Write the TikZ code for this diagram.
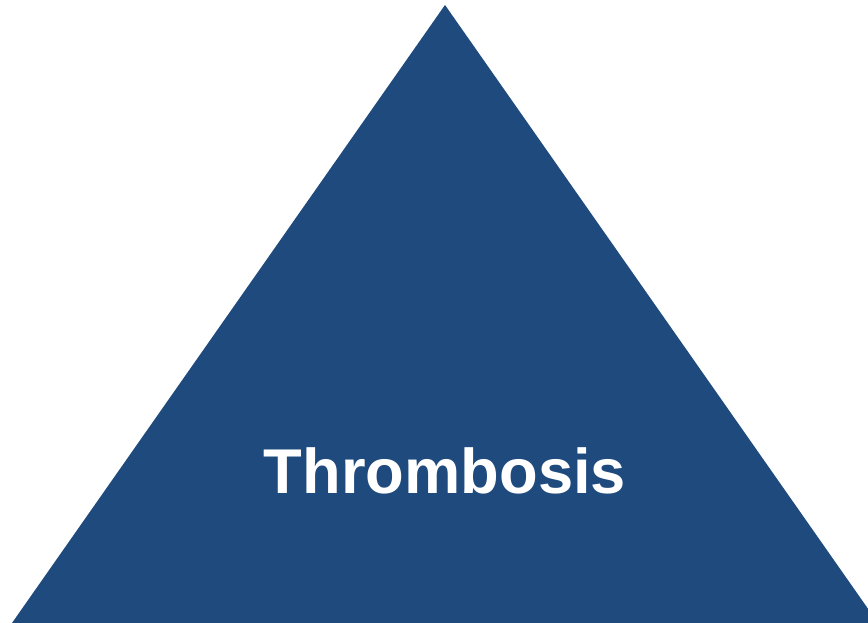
\documentclass[tikz,border=0pt]{standalone}
\usepackage{fontspec}
\setmainfont{Liberation Sans}
\usetikzlibrary{positioning}
\definecolor{triblue}{HTML}{1F4A7D}

\begin{document}
\begin{tikzpicture}[x=0.2mm, y=-0.2mm]
  \useasboundingbox (0,0) rectangle (868,623);
  % triangle
  \begin{scope}
    \clip (0,0) rectangle (868,623);
    \fill[triblue] (445,5) -- (12,623) -- (878,623) -- cycle;
  \end{scope}
  % label
  \node[anchor=base, inner sep=0pt, text=white, font=\fontsize{36}{40}\selectfont\bfseries] (label) at (445,493) {Thrombosis};
\end{tikzpicture}
\end{document}
